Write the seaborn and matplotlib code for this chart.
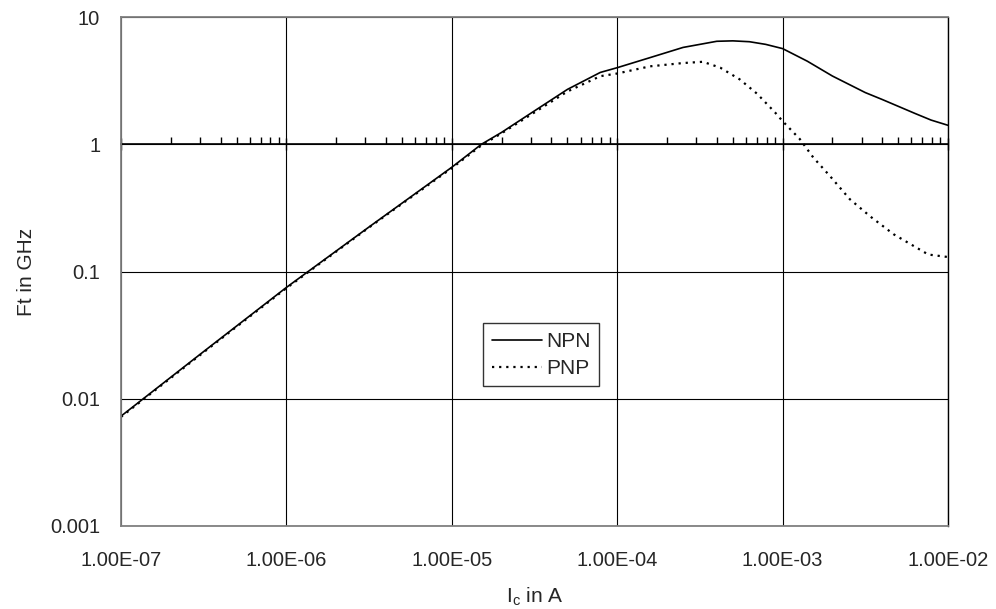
import matplotlib
matplotlib.use("Agg")
import matplotlib.pyplot as plt
import matplotlib.ticker as mticker
import pandas as pd
import seaborn as sns

# collector current (A) and transit frequency (GHz)
ic_npn = [1.0e-7, 3.16e-7, 1.0e-6, 3.16e-6, 1.0e-5, 1.51e-5, 2.0e-5, 3.16e-5,
          5.0e-5, 7.9e-5, 1.0e-4, 1.58e-4, 2.5e-4, 4.0e-4, 5.0e-4, 6.3e-4,
          7.9e-4, 1.0e-3, 1.41e-3, 2.0e-3, 3.16e-3, 4.0e-3, 6.3e-3, 7.9e-3, 1.0e-2]
ft_npn = [0.0073, 0.0235, 0.075, 0.224, 0.66, 1.0, 1.24, 1.83,
          2.7, 3.67, 4.0, 4.8, 5.77, 6.45, 6.5, 6.4,
          6.1, 5.65, 4.5, 3.44, 2.55, 2.25, 1.75, 1.55, 1.41]

ic_pnp = [1.0e-7, 3.16e-7, 1.0e-6, 3.16e-6, 1.0e-5, 1.51e-5, 2.0e-5, 3.16e-5,
          5.0e-5, 7.9e-5, 1.0e-4, 1.58e-4, 2.5e-4, 3.3e-4, 4.2e-4, 5.5e-4,
          7.0e-4, 9.0e-4, 1.0e-3, 1.27e-3, 1.53e-3, 1.94e-3, 2.55e-3, 3.4e-3,
          4.7e-3, 7.6e-3, 1.0e-2]
ft_pnp = [0.0072, 0.0232, 0.074, 0.222, 0.65, 0.98, 1.22, 1.78,
          2.6, 3.43, 3.6, 4.1, 4.35, 4.45, 4.0, 3.24,
          2.5, 1.78, 1.52, 1.1, 0.79, 0.56, 0.37, 0.27,
          0.196, 0.136, 0.13]

x_ticks = [1e-7, 1e-6, 1e-5, 1e-4, 1e-3, 1e-2]
y_ticks = [0.001, 0.01, 0.1, 1, 10]
y_tick_labels = ["0.001", "0.01", "0.1", "1", "10"]

df_npn = pd.DataFrame({"Ic": ic_npn, "Ft": ft_npn})
df_pnp = pd.DataFrame({"Ic": ic_pnp, "Ft": ft_pnp})

sns.set_style("white")
plt.rcParams["font.family"] = ["Liberation Sans", "DejaVu Sans"]

fig = plt.figure(figsize=(9.96, 6.09), dpi=100)
ax = fig.add_axes([0.1215, 0.1363, 0.8303, 0.8357])

sns.lineplot(data=df_npn, x="Ic", y="Ft", color="black", linewidth=1.2,
             label="NPN", ax=ax, sort=False)
sns.lineplot(data=df_pnp, x="Ic", y="Ft", color="black", linewidth=1.6,
             dashes=False, label="PNP", ax=ax, sort=False)
ax.lines[1].set_linestyle((0, (1, 2.2)))

ax.set_xscale("log")
ax.set_yscale("log")
ax.set_xlim(1e-7, 1e-2)
ax.set_ylim(0.001, 10)

ax.set_xticks(x_ticks)
ax.xaxis.set_major_formatter(
    mticker.FuncFormatter(lambda v, p: "%.2E" % v))
ax.set_yticks(y_ticks)
ax.set_yticklabels(y_tick_labels)
ax.xaxis.set_minor_locator(mticker.NullLocator())
ax.yaxis.set_minor_locator(mticker.NullLocator())
ax.tick_params(axis="both", which="major", length=0, labelsize=14.5)
ax.tick_params(axis="x", pad=18)
ax.tick_params(axis="y", pad=15)

ax.grid(True, which="major", color="black", linewidth=0.8)
for side in ["left", "top", "bottom"]:
    ax.spines[side].set_color("#808080")
    ax.spines[side].set_linewidth(1.3)
ax.spines["right"].set_color("black")
ax.spines["right"].set_linewidth(1.0)

# the category axis crosses at Ft = 1, Excel style
sec = ax.secondary_xaxis(0.75)
sec.set_xscale("log")
sec.xaxis.set_major_locator(mticker.LogLocator(base=10, numticks=20))
sec.xaxis.set_minor_locator(
    mticker.LogLocator(base=10, subs=[2, 3, 4, 5, 6, 7, 8, 9], numticks=20))
sec.xaxis.set_ticks_position("top")
sec.tick_params(which="major", direction="inout", length=9, width=1.0,
                color="black", labeltop=False, labelbottom=False)
sec.tick_params(which="minor", direction="out", length=5, width=1.0,
                color="black", labeltop=False, labelbottom=False)
sec.spines["top"].set_color("black")
sec.spines["bottom"].set_color("black")
sec.spines["top"].set_linewidth(1.2)
sec.spines["bottom"].set_linewidth(1.2)

ax.set_xlabel("I$_\\mathregular{c}$ in A", fontsize=15, labelpad=11)
ax.set_ylabel("Ft in GHz", fontsize=15, labelpad=10)

leg = ax.legend(loc="center", bbox_to_anchor=(0.508, 0.336), fontsize=15,
                frameon=True, fancybox=False, handlelength=2.4,
                handletextpad=0.2, borderpad=0.4, labelspacing=0.4)
leg.get_frame().set_edgecolor("black")
leg.get_frame().set_linewidth(1.0)

fig.savefig("out.png", dpi=100)
